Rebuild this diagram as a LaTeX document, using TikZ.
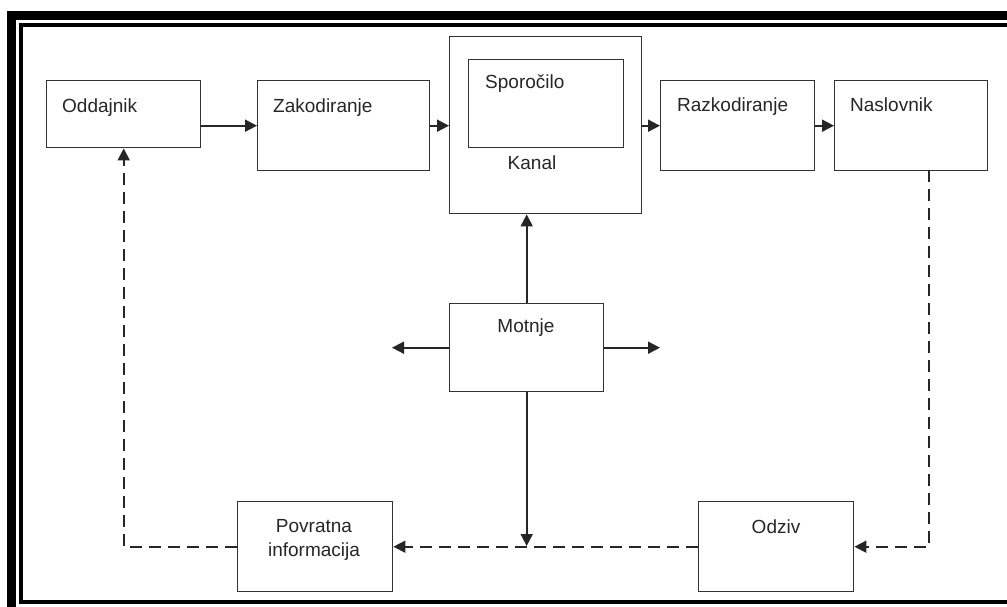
\documentclass[tikz,border=0pt]{standalone}
\usepackage{fontspec}
\setmainfont{Liberation Sans}
\usetikzlibrary{arrows.meta}

\begin{document}
\begin{tikzpicture}[x=1pt,y=-1pt,
    box/.style={draw=black!80, line width=1.4pt, anchor=north west, inner sep=0pt},
    txt/.style={font=\fontsize{19}{24}\selectfont, text=black!85, inner sep=0pt},
    tip/.style={-{Triangle[length=12pt,width=12pt]}},
    conn/.style={draw=black!85, line width=1.8pt},
    back/.style={conn, dash pattern=on 12pt off 7pt}]
    \useasboundingbox (0,0) rectangle (1007,607);
    \clip (0,0) rectangle (1007,607);
    % double frame, cut at right and bottom
    \draw[line width=9pt] (11.5,15.5) rectangle (1100,700);
    \draw[line width=4pt] (21,25) rectangle (1100,601.5);
    % boxes
    \node[box, minimum width=154pt, minimum height=67pt] (odd) at (46,80) {};
    \node[box, minimum width=172pt, minimum height=90pt] (zak) at (257,80) {};
    \node[box, minimum width=192pt, minimum height=177pt] (kanal) at (449,36) {};
    \node[box, minimum width=155pt, minimum height=88pt] (spor) at (468,59) {};
    \node[box, minimum width=154pt, minimum height=90pt] (raz) at (660,80) {};
    \node[box, minimum width=153pt, minimum height=90pt] (nas) at (834,80) {};
    \node[box, minimum width=154pt, minimum height=88pt] (mot) at (449,303) {};
    \node[box, minimum width=155pt, minimum height=90pt] (pov) at (237,501) {};
    \node[box, minimum width=155pt, minimum height=90pt] (odz) at (698,501) {};
    % labels
    \node[txt, anchor=base west] (oddtxt) at (62,113) {Oddajnik};
    \node[txt, anchor=base west] (zaktxt) at (273,113) {Zakodiranje};
    \node[txt, anchor=base west] (sportxt) at (485,89) {Sporočilo};
    \node[txt, anchor=base] (kanaltxt) at (532,169) {Kanal};
    \node[txt, anchor=base west] (raztxt) at (677,112) {Razkodiranje};
    \node[txt, anchor=base west] (nastxt) at (850,112) {Naslovnik};
    \node[txt, anchor=base] (mottxt) at (526,332) {Motnje};
    \node[txt, anchor=north, align=center] (povtxt) at (314,519) {Povratna\\informacija};
    \node[txt, anchor=base] (odztxt) at (776,533) {Odziv};
    % free ends
    \coordinate (ml) at (392,347);
    \coordinate (mr) at (660,347);
    \coordinate (join) at (526,546);
    \coordinate (drop) at (929,170);
    % main chain
    \draw[conn,tip] (odd.east |- zak.west) -- (zak.west);
    \draw[conn,tip] (zak.east) -- (zak.east -| kanal.west);
    \draw[conn,tip] (kanal.east |- raz.west) -- (raz.west);
    \draw[conn,tip] (raz.east) -- (nas.west);
    % noise
    \draw[conn,tip] (mot.north) -- (mot.north |- kanal.south);
    \draw[conn,tip] (mot.west) -- (mot.west -| ml);
    \draw[conn,tip] (mot.east) -- (mot.east -| mr);
    \draw[conn,tip] (mot.south) -- (mot.south |- join);
    % feedback loop
    \draw[back,tip] (drop) |- (odz.east);
    \draw[back,tip] (odz.west) -- (pov.east);
    \draw[back,tip] (pov.west) -| (odd.south);
\end{tikzpicture}
\end{document}
